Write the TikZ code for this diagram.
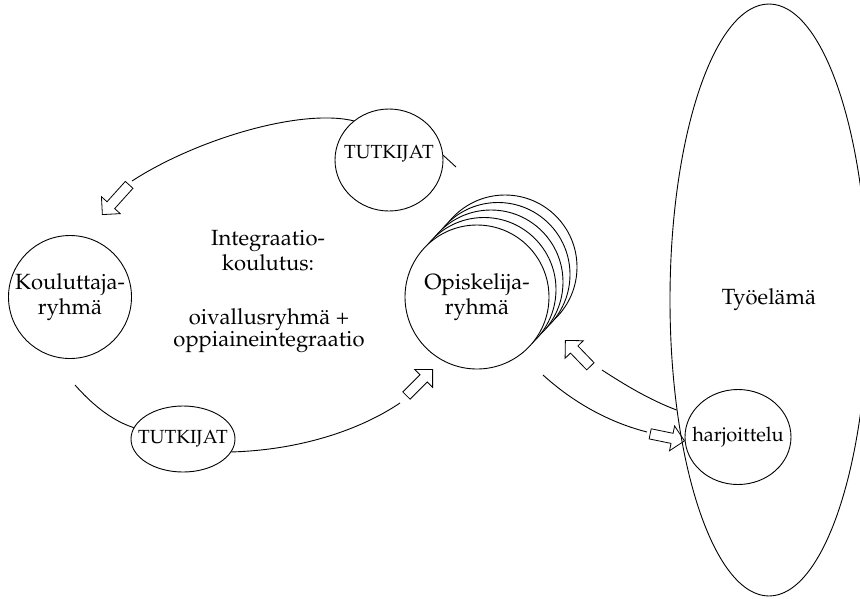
\documentclass[tikz,border=0pt]{standalone}
\usepackage[T1]{fontenc}
\usepackage{mathpazo}
\usetikzlibrary{shapes.geometric,shapes.arrows}

\begin{document}
\begin{tikzpicture}[x=1pt, y=-1pt, line width=0.9pt,
  every node/.style={inner sep=0pt},
  lbl/.style={font=\fontsize{22}{25}\selectfont, align=center},
  smalllbl/.style={font=\fontsize{19}{22}\selectfont},
  ring/.style={draw, circle, fill=white, minimum size=144pt, lbl},
  oval/.style={draw, ellipse, inner sep=0pt},
  harrow/.style={single arrow, draw, inner sep=4.75pt,
    single arrow head extend=7.5pt, single arrow tip angle=90,
    minimum height=37pt, line width=0.8pt},
  link/.style={line width=0.9pt}]

\useasboundingbox (0,0) rectangle (860,598);

% working life and the practice placement inside it
\node[oval, lbl, minimum width=198pt, minimum height=592pt] (tyo) at (769,300) {Työelämä};
\node[oval, font=\fontsize{20}{24}\selectfont, inner xsep=-8.8pt,
      minimum width=106pt, minimum height=95pt] (harj) at (738,437) {harjoittelu};

% trainer group
\node[ring, minimum size=123pt] (kou) at (70,297) {Kouluttaja-\\ryhmä};

% stacked student groups, back to front
\foreach \k in {4,3,2,1}
  \node[ring] (op\k) at ({477+7*\k},{297-7.5*\k}) {};
\node[ring] (op) at (477,297) {Opiskelija-\\ryhmä};

% researchers
\node[oval, smalllbl, inner xsep=-7.6pt, text height=13.4pt, text depth=16pt,
      minimum width=108pt, minimum height=102pt] (ttop) at (389,160) {TUTKIJAT};
\node[oval, smalllbl, inner xsep=-8.6pt,
      minimum width=104pt, minimum height=66pt] (tbot) at (183,439) {TUTKIJAT};

% central text
\node[lbl] (integ) at (268,251) {Integraatio-\\koulutus:};
\node[lbl, font=\fontsize{22}{22}\selectfont] (oival) at (269,331) {oivallusryhmä +\\oppiaineintegraatio};

% hollow block arrows
\node[harrow, rotate=228, anchor=tip, minimum height=40pt] (a1) at (102,215) {};
\node[harrow, rotate=45, anchor=tip] (a2) at (433,369) {};
\node[harrow, rotate=134, anchor=tip, minimum height=36pt] (a3) at (565,340) {};
\node[harrow, rotate=-11.6, anchor=tip, minimum height=35pt] (a4) at (685,441) {};

% free ends of the cycle curves
\coordinate (c1) at (132,181);
\coordinate (c2) at (456,167);
\coordinate (c3) at (75,385);
\coordinate (c4) at (400,403);
\coordinate (c5) at (602,370);
\coordinate (c6) at (543,375);
\coordinate (c7) at (647,432);

% cycle curves
\draw[link] (ttop.132) .. controls (300,108) and (195,140) .. (c1);
\draw[link] (ttop.5) -- (c2);
\draw[link] (c3) .. controls (90,402) and (110,420) .. (tbot.167);
\draw[link] (tbot.-15) .. controls (300,450) and (360,430) .. (c4);
\draw[link] (c5) .. controls (625,385) and (650,400) .. (tyo.230);
\draw[link] (c6) .. controls (565,395) and (600,420) .. (c7);
\end{tikzpicture}
\end{document}
